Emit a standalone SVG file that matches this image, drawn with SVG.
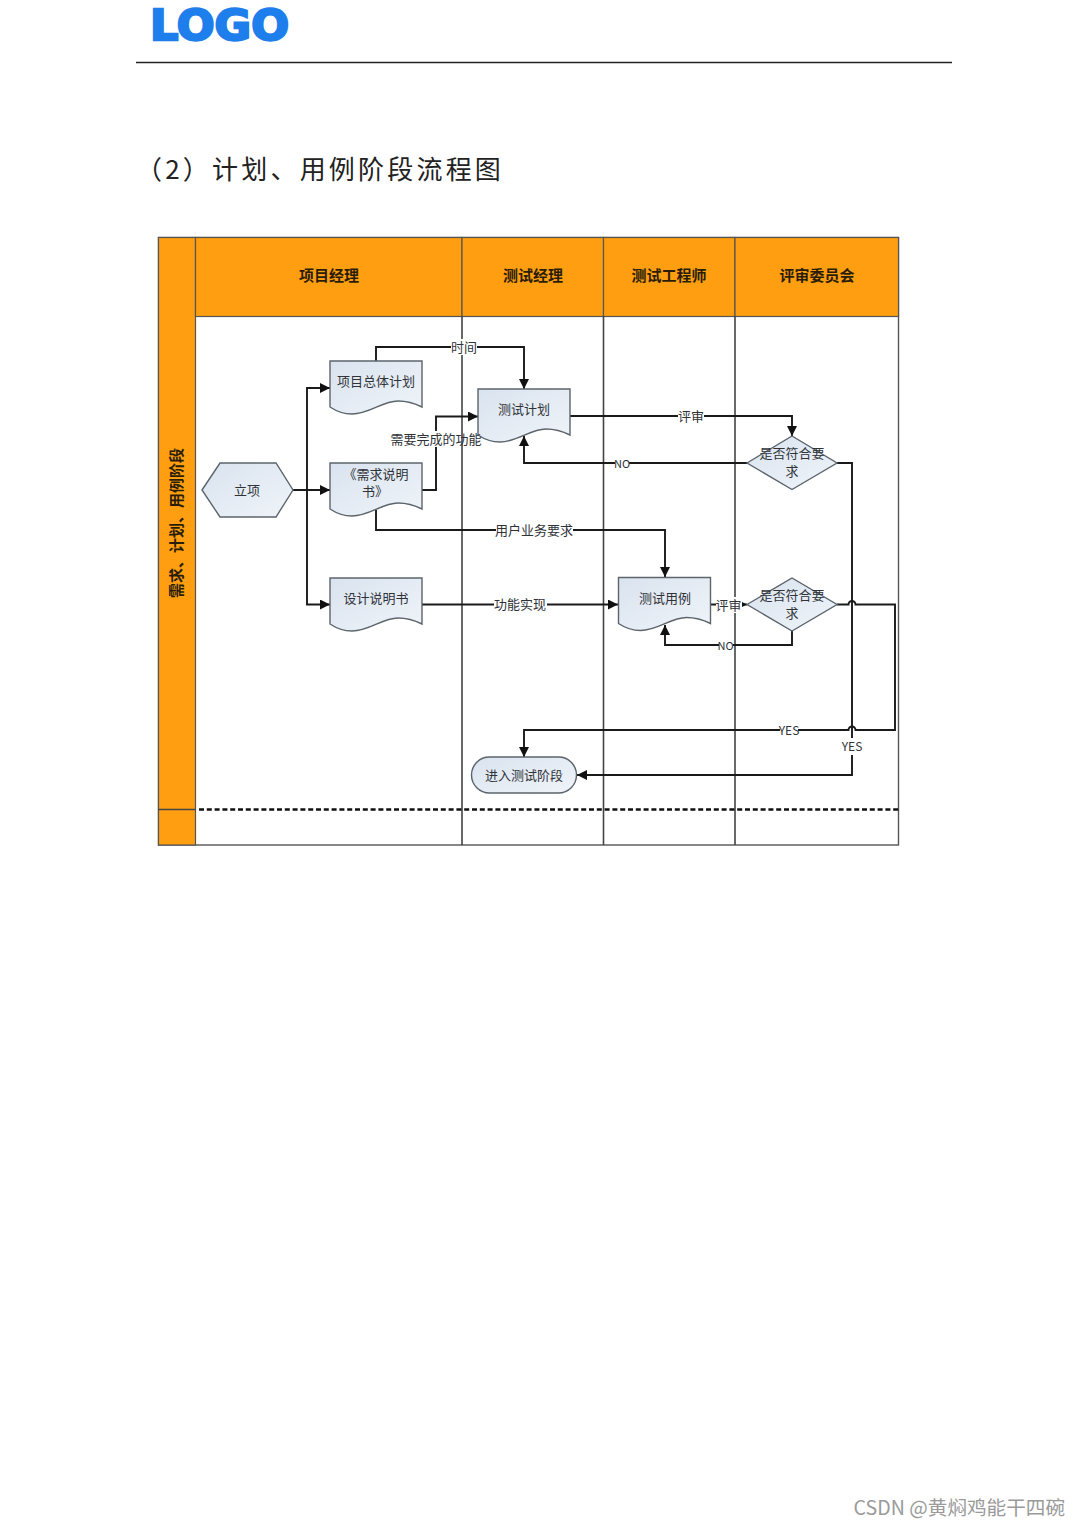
<svg xmlns="http://www.w3.org/2000/svg" width="1080" height="1528" viewBox="0 0 1080 1528">
<style>
text{font-family:"Liberation Sans","Noto Sans CJK SC",sans-serif;}
.t{font-size:13px;fill:#2f3338;text-anchor:middle;font-family:"Noto Sans CJK SC",sans-serif;}
.h{font-size:15px;font-weight:700;fill:#2a1d08;text-anchor:middle;font-family:"Noto Sans CJK SC",sans-serif;}
.l{font-size:13px;fill:#2f3338;text-anchor:middle;font-family:"Noto Sans CJK SC",sans-serif;}
.bg{fill:#fff;}
.n{fill:url(#g);stroke:#5c646c;stroke-width:1.4;}
.b{fill:#ff9e10;stroke:#555;stroke-width:1.2;}
.ln{fill:none;stroke:#444;stroke-width:1.6;}
.c{fill:none;stroke:#1a1a1a;stroke-width:1.9;}
.a{marker-end:url(#ar);}
</style>
<defs>
<linearGradient id="g" x1="0" y1="0" x2="1" y2="1"><stop offset="0" stop-color="#d9e3ef"/><stop offset="1" stop-color="#f0f4f9"/></linearGradient>
<marker id="ar" markerUnits="userSpaceOnUse" markerWidth="12" markerHeight="10" refX="10" refY="5" orient="auto"><path d="M0 0L10 5L0 10Z" fill="#111"/></marker>
<path id="doc" d="M0 0H92V46C84 42 76 40 68 40C52 40 40 53 22 53C13 53 6 50 0 46Z"/>
</defs>
<rect width="1080" height="1528" fill="#fff"/>

<text x="150" y="39.500" font-size="42" font-weight="700" fill="#1e7fec" stroke="#1e7fec" stroke-width="2.400" stroke-linejoin="miter" textLength="139" lengthAdjust="spacingAndGlyphs" style="font-family:'DejaVu Sans',sans-serif">LOGO</text>
<path d="M136 62.500H952" stroke="#222" stroke-width="1.600" fill="none"/>
<text x="136" y="179" font-size="26" letter-spacing="3.200" fill="#222" style="font-family:'Noto Sans CJK SC',sans-serif">（2）计划、用例阶段流程图</text>

<g id="lanes">
<rect x="158.500" y="237.500" width="740" height="607.500" fill="#fff" stroke="#555" stroke-width="1.400"/>
<rect class="b" x="158.500" y="237.500" width="37" height="607.500"/>
<rect class="b" x="195.500" y="237.500" width="266.500" height="79"/>
<rect class="b" x="462" y="237.500" width="141.500" height="79"/>
<rect class="b" x="603.500" y="237.500" width="131.500" height="79"/>
<rect class="b" x="735" y="237.500" width="163.500" height="79"/>
<path class="ln" d="M462 316V845M603.500 316V845M735 316V845M158.500 809.500H195.500"/>
<path d="M199 809.500H899" fill="none" stroke="#111" stroke-width="2.600" stroke-dasharray="5 2.800"/>
<text class="h" x="329" y="281">项目经理</text>
<text class="h" x="533" y="281">测试经理</text>
<text class="h" x="669" y="281">测试工程师</text>
<text class="h" x="817" y="281">评审委员会</text>
<text class="h" transform="translate(182 523) rotate(-90)" x="0" y="0">需求、计划、用例阶段</text>
</g>

<g id="connectors">
<path class="c a" d="M293 490H330"/>
<path class="c a" d="M307 490V388H330"/>
<path class="c a" d="M307 490V604.500H330"/>
<path class="c a" d="M376 361V347H524V389"/>
<path class="c a" d="M422 490H436V416.500H478"/>
<path class="c a" d="M376 510V530H665V577"/>
<path class="c a" d="M422 604.500H618"/>
<path class="c a" d="M570 416H792V436"/>
<path class="c a" d="M747 463H524V436"/>
<path class="c a" d="M837 463H852V775H577"/>
<path class="c a" d="M711 604.500H747"/>
<path class="c a" d="M792 631V645H665V625"/>
<path class="c a" d="M837 604.500H848.500A3.500 3.500 0 0 1 855.500 604.500H895V730H855.500A3.500 3.500 0 0 0 848.500 730H524V757"/>
</g>

<g id="start"><path class="n" d="M202 490L220 463H276L293 490L276 517H220Z"/><text class="t" x="247" y="495">立项</text></g>
<g id="doc-plan"><use href="#doc" x="330" y="361" class="n"/><text class="t" x="376" y="386">项目总体计划</text></g>
<g id="doc-req"><use href="#doc" x="330" y="463" class="n"/><text class="t" x="376" y="479">《需求说明</text><text class="t" x="375" y="496">书》</text></g>
<g id="doc-design"><use href="#doc" x="330" y="578" class="n"/><text class="t" x="376" y="603">设计说明书</text></g>
<g id="doc-testplan"><use href="#doc" x="478" y="389" class="n"/><text class="t" x="524" y="414">测试计划</text></g>
<g id="doc-testcase"><use href="#doc" x="618.500" y="577.500" class="n"/><text class="t" x="665" y="603">测试用例</text></g>
<g id="decision-1"><path class="n" d="M747 463L792 436L837 463L792 489.500Z"/><text class="t" x="792" y="458">是否符合要</text><text class="t" x="792" y="476">求</text></g>
<g id="decision-2"><path class="n" d="M747 604.500L792 578L837 604.500L792 631Z"/><text class="t" x="792" y="600">是否符合要</text><text class="t" x="792" y="618">求</text></g>
<g id="end"><rect class="n" x="471.500" y="757" width="105" height="36" rx="18"/><text class="t" x="524" y="780">进入测试阶段</text></g>

<g id="connector-labels">
<rect class="bg" x="451" y="339" width="26" height="16"/><text class="l" x="464" y="352">时间</text>
<rect class="bg" x="390" y="431" width="71" height="16"/><text class="l" x="436" y="444">需要完成的功能</text>
<rect class="bg" x="496" y="522" width="77" height="16"/><text class="l" x="534" y="535">用户业务要求</text>
<rect class="bg" x="494" y="596" width="53" height="16"/><text class="l" x="520" y="609">功能实现</text>
<rect class="bg" x="678" y="408" width="26" height="16"/><text class="l" x="691" y="421">评审</text>
<rect class="bg" x="615" y="455" width="14" height="16"/><text class="l" x="622" y="468" style="font-size:11px">NO</text>
<rect class="bg" x="716" y="597" width="26" height="16"/><text class="l" x="728.500" y="610">评审</text>
<rect class="bg" x="719" y="637" width="14" height="16"/><text class="l" x="725.500" y="650" style="font-size:11px">NO</text>
<rect class="bg" x="780" y="722" width="18" height="16"/><text class="l" x="789" y="735" style="font-size:12px">YES</text>
<rect class="bg" x="842" y="738" width="20" height="17"/><text class="l" x="852" y="751" style="font-size:12px">YES</text>
</g>

<text x="1065" y="1515" font-size="19.600" fill="#9a9a9a" text-anchor="end" style="font-family:'Noto Sans CJK SC',sans-serif">CSDN @黄焖鸡能干四碗</text>
</svg>
